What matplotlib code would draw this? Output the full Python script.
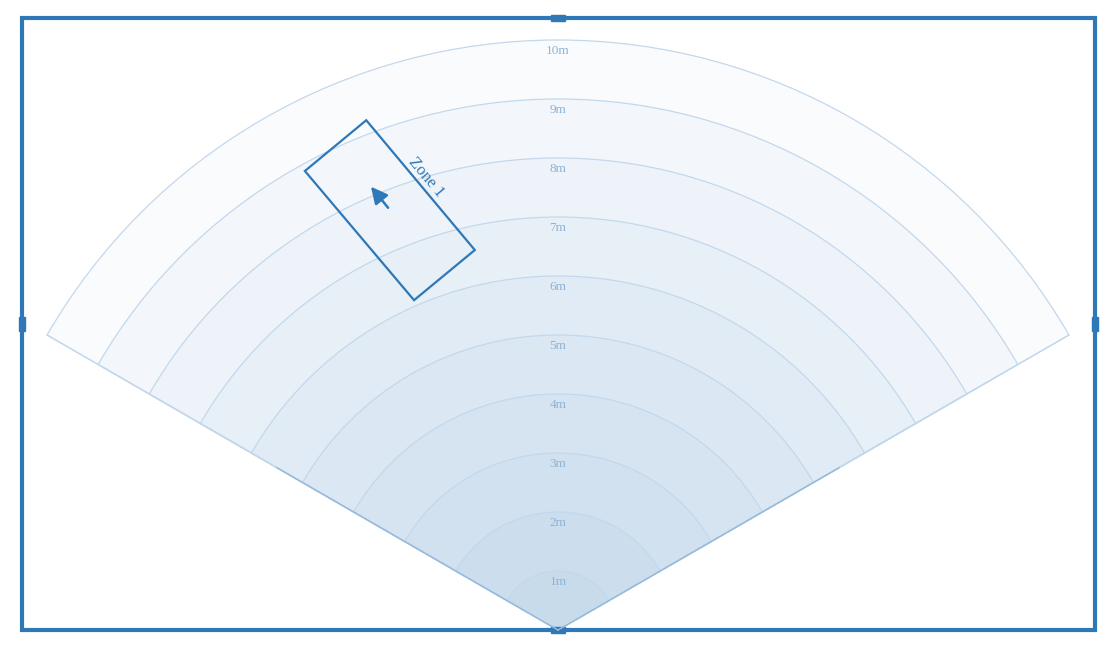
import matplotlib
matplotlib.use("Agg")
import matplotlib.pyplot as plt
from matplotlib.patches import Wedge, Rectangle, Polygon
import numpy as np

ranges_m = [1, 2, 3, 4, 5, 6, 7, 8, 9, 10]
range_labels = ["1m", "2m", "3m", "4m", "5m", "6m", "7m", "8m", "9m", "10m"]
half_angle_deg = 60
zone_name = "Zone 1"
zone_corners_m = [(-4.29, 7.78), (-3.25, 8.64), (-1.41, 6.44), (-2.44, 5.59)]
zone_arrow_m = [(-2.85, 7.12), (-3.2, 7.55)]

W, H = 1120, 656
apex = (558, 630)
ppm = 59.0
blue = "#2f78b7"

fig = plt.figure(figsize=(W / 100, H / 100), dpi=100)
ax = fig.add_axes([0, 0, 1, 1])
ax.set_xlim(0, W)
ax.set_ylim(H, 0)
ax.set_aspect("equal")
ax.axis("off")

def to_px(p):
    return (apex[0] + p[0] * ppm, apex[1] - p[1] * ppm)

t1, t2 = 270 - half_angle_deg, 270 + half_angle_deg
for r in ranges_m:
    ax.add_patch(Wedge(apex, r * ppm, t1, t2, facecolor="#2a7ab9", alpha=0.028, edgecolor="none"))
for r in ranges_m:
    ax.add_patch(Wedge(apex, r * ppm, t1, t2, facecolor="none", edgecolor="#c3d8ec", lw=0.9))
R = ranges_m[-1] * ppm
for t in (t1, t2):
    a = np.radians(t)
    ax.plot([apex[0], apex[0] + R * np.cos(a)], [apex[1], apex[1] + R * np.sin(a)],
            color="#c3d8ec", lw=0.9)
    ax.plot([apex[0], apex[0] + R * 0.55 * np.cos(a)], [apex[1], apex[1] + R * 0.55 * np.sin(a)],
            color="#7aaad4", lw=0.9, alpha=0.7)

for r, lab in zip(ranges_m, range_labels):
    ax.text(apex[0], apex[1] - r * ppm + 11, lab, ha="center", va="center",
            fontsize=9.5, family="Liberation Serif", color="#8eb3d6")

pts = [to_px(p) for p in zone_corners_m]
ax.add_patch(Polygon(pts, closed=True, fill=False, edgecolor=blue, lw=1.6))
a0, a1 = to_px(zone_arrow_m[0]), to_px(zone_arrow_m[1])
ax.annotate("", xy=a1, xytext=a0,
            arrowprops=dict(arrowstyle="-|>,head_length=1.0,head_width=0.5", color=blue, lw=1.8))
mid = ((pts[1][0] + pts[2][0]) / 2, (pts[1][1] + pts[2][1]) / 2)
ax.text(mid[0] + 6, mid[1] - 8, zone_name, rotation=-50, ha="center", va="center",
        rotation_mode="anchor", fontsize=12, family="Liberation Serif", color=blue)

ax.add_patch(Rectangle((22, 18), 1073, 612, fill=False, edgecolor=blue, lw=3))
for cx, cy, w, h in [(558, 18, 14, 6), (558, 630, 14, 6), (22, 324, 6, 14), (1095, 324, 6, 14)]:
    ax.add_patch(Rectangle((cx - w / 2, cy - h / 2), w, h, facecolor=blue, edgecolor=blue))

fig.savefig("out.png", dpi=100, facecolor="white")
